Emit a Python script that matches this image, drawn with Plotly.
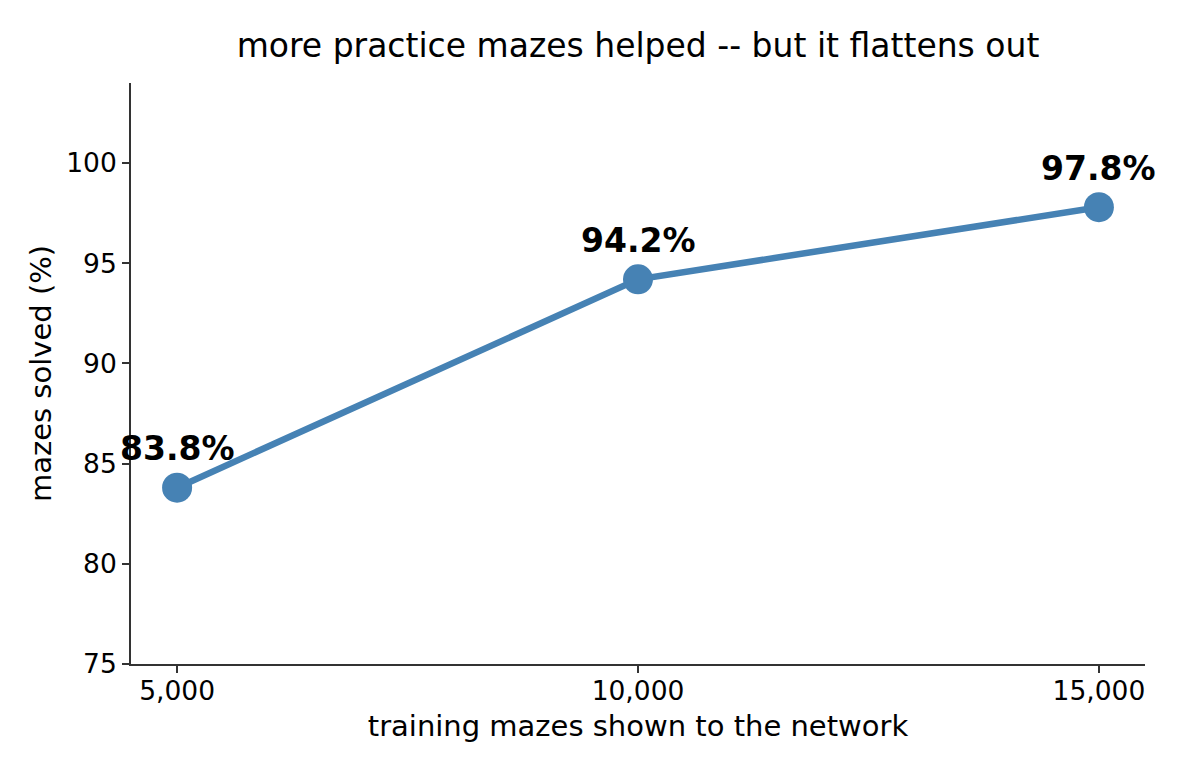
import plotly.graph_objects as go

# training set size vs. solve rate
train_sizes = [5000, 10000, 15000]
solved_pct = [83.8, 94.2, 97.8]
point_labels = ["83.8%", "94.2%", "97.8%"]

x_ticks = [5000, 10000, 15000]
x_tick_text = ["5,000", "10,000", "15,000"]
y_ticks = [75, 80, 85, 90, 95, 100]

font_family = "DejaVu Sans"
line_color = "#4682b4"

fig = go.Figure()
fig.add_trace(go.Scatter(
    x=train_sizes, y=solved_pct, mode="lines+markers",
    line=dict(color=line_color, width=6.5),
    marker=dict(color=line_color, size=30),
    cliponaxis=False, showlegend=False,
))

for x, y, txt in zip(train_sizes, solved_pct, point_labels):
    fig.add_annotation(x=x, y=y, text="<b>%s</b>" % txt, showarrow=False,
                       yshift=39, font=dict(size=33, color="black", family=font_family))

# page body adds ~8px offset, so margins are shifted to compensate
fig.update_layout(
    width=1190, height=770,
    paper_bgcolor="white", plot_bgcolor="white",
    margin=dict(l=123, r=53, t=75, b=114),
    font=dict(family=font_family, color="black"),
    title=dict(text="more practice mazes helped -- but it flattens out",
               x=0.5, xanchor="center", xref="paper", y=0.952, yanchor="middle",
               font=dict(size=33, family=font_family)),
)
fig.update_xaxes(
    range=[4500, 15500], tickmode="array", tickvals=x_ticks, ticktext=x_tick_text,
    showgrid=False, zeroline=False, showline=True, linecolor="#333", linewidth=1.7,
    ticks="outside", ticklen=7, tickwidth=1.7, tickcolor="#333", ticklabelstandoff=-5,
    tickfont=dict(size=26.5), title=dict(text="training mazes shown to the network",
                                         font=dict(size=29), standoff=11),
)
fig.update_yaxes(
    range=[75, 104], tickmode="array", tickvals=y_ticks,
    showgrid=False, zeroline=False, showline=True, linecolor="#333", linewidth=1.7,
    ticks="outside", ticklen=7, tickwidth=1.7, tickcolor="#333",
    tickfont=dict(size=26.5), title=dict(text="mazes solved (%)",
                                         font=dict(size=29), standoff=6),
)

fig.write_html("out.html")
